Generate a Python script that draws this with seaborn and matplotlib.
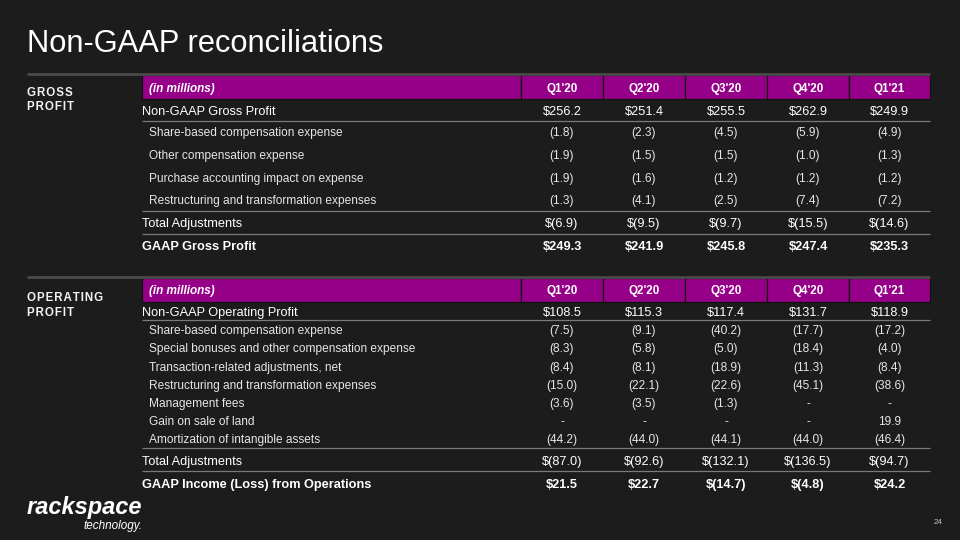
import matplotlib
matplotlib.use("Agg")
import matplotlib.pyplot as plt
import seaborn as sns
from matplotlib.patches import Rectangle

# ---------------- data ----------------
quarters = ["Q1'20", "Q2'20", "Q3'20", "Q4'20", "Q1'21"]

gross_sub_labels = [
    "Share-based compensation expense",
    "Other compensation expense",
    "Purchase accounting impact on expense",
    "Restructuring and transformation expenses",
]
gross_nongaap = [256.2, 251.4, 255.5, 262.9, 249.9]
gross_sbc = [-1.8, -2.3, -4.5, -5.9, -4.9]
gross_other_comp = [-1.9, -1.5, -1.5, -1.0, -1.3]
gross_purchase = [-1.9, -1.6, -1.2, -1.2, -1.2]
gross_restruct = [-1.3, -4.1, -2.5, -7.4, -7.2]
gross_total_adj = [-6.9, -9.5, -9.7, -15.5, -14.6]
gross_gaap = [249.3, 241.9, 245.8, 247.4, 235.3]

op_sub_labels = [
    "Share-based compensation expense",
    "Special bonuses and other compensation expense",
    "Transaction-related adjustments, net",
    "Restructuring and transformation expenses",
    "Management fees",
    "Gain on sale of land",
    "Amortization of intangible assets",
]
op_nongaap = [108.5, 115.3, 117.4, 131.7, 118.9]
op_sbc = [-7.5, -9.1, -40.2, -17.7, -17.2]
op_special = [-8.3, -5.8, -5.0, -18.4, -4.0]
op_transaction = [-8.4, -8.1, -18.9, -11.3, -8.4]
op_restruct = [-15.0, -22.1, -22.6, -45.1, -38.6]
op_mgmt = [-3.6, -3.5, -1.3, None, None]
op_land = [None, None, None, None, 19.9]
op_amort = [-44.2, -44.0, -44.1, -44.0, -46.4]
op_total_adj = [-87.0, -92.6, -132.1, -136.5, -94.7]
op_gaap = [21.5, 22.7, -14.7, -4.8, 24.2]

# ---------------- style ----------------
BG = "#1c1c1c"
PURPLE = "#960088"
sns.set_theme(style="dark", rc={"axes.facecolor": BG, "figure.facecolor": BG})
plt.rcParams["font.family"] = ["Liberation Sans", "DejaVu Sans"]

fig = plt.figure(figsize=(9.6, 5.4), dpi=100)
ax = fig.add_axes([0, 0, 1, 1])
ax.set_xlim(0, 960)
ax.set_ylim(540, 0)
ax.axis("off")

col_edges = [521, 603, 685, 767, 849, 930]
col_centers = [(a + b) / 2 for a, b in zip(col_edges[:-1], col_edges[1:])]
X_TABLE = 142
X_SUB = 149
X_RIGHT = 930


def fmt(v, dollar):
    if v is None:
        return "-"
    s = f"{abs(v):.1f}"
    if v < 0:
        s = f"({s})"
    return "$" + s if dollar else s


def txt(x, yc, s, size, weight="normal", style="normal", color="white", ha="left"):
    # yc = vertical centre of capitals (pixels); place baseline accordingly
    em = size / 0.72
    ax.text(x, yc + 0.358 * em, s, fontsize=size, fontweight=weight,
            fontstyle=style, color=color, ha=ha, va="baseline")


def hline(y, x0=X_TABLE, x1=X_RIGHT, color="#7a7a7a", lw=0.9):
    ax.plot([x0, x1], [y, y], color=color, lw=lw, solid_capstyle="butt")


def spaced(s):
    return "\u200a".join(s)


def section(top, title_lines, title_ys, header_y, main_label, main_y, main_vals,
            sub_labels, sub_vals, sub_ys, line1, line2, total_y, total_vals,
            line3, gaap_label, gaap_y, gaap_vals):
    # top divider
    hline(top, 27, X_RIGHT, color="#4a4a4a", lw=2.0)
    for t, y in zip(title_lines, title_ys):
        txt(27, y, spaced(t), 8.3, weight="bold", color="#f2f2f2")
    # header band
    h_top, h_bot = top + 1.5, top + 25.5
    edges = [X_TABLE] + col_edges
    for a, b in zip(edges[:-1], edges[1:]):
        ax.add_patch(Rectangle((a, h_top), b - a, h_bot - h_top,
                               facecolor=PURPLE, edgecolor="#101010", lw=0.9))
    txt(X_SUB, header_y, "(in millions)", 8.5, weight="bold", style="italic")
    for xc, q in zip(col_centers, quarters):
        txt(xc, header_y, q, 8.4, weight="bold", ha="center")
    # main row
    txt(X_TABLE, main_y, main_label, 9.2)
    for xc, v in zip(col_centers, main_vals):
        txt(xc, main_y, fmt(v, True), 9.2, ha="center")
    hline(line1)
    # sub rows
    for lab, vals, y in zip(sub_labels, sub_vals, sub_ys):
        txt(X_SUB, y, lab, 8.6, color="#e6e6e6")
        for xc, v in zip(col_centers, vals):
            txt(xc, y, fmt(v, False), 8.6, color="#e6e6e6", ha="center")
    hline(line2)
    txt(X_TABLE, total_y, "Total Adjustments", 9.2)
    for xc, v in zip(col_centers, total_vals):
        txt(xc, total_y, fmt(v, True), 9.2, ha="center")
    hline(line3)
    txt(X_TABLE, gaap_y, gaap_label, 9.2, weight="bold")
    for xc, v in zip(col_centers, gaap_vals):
        txt(xc, gaap_y, fmt(v, True), 9.2, weight="bold", ha="center")


# title
ax.text(27, 52, "Non-GAAP reconciliations", fontsize=22.2, color="white",
        ha="left", va="baseline")

section(73.5, ["GROSS", "PROFIT"], [91.5, 106], 87.5,
        "Non-GAAP Gross Profit", 110, gross_nongaap,
        gross_sub_labels, [gross_sbc, gross_other_comp, gross_purchase, gross_restruct],
        [132, 155, 177.5, 200], 121, 211, 222.5, gross_total_adj,
        234, "GAAP Gross Profit", 245, gross_gaap)

section(276.5, ["OPERATING", "PROFIT"], [297, 312], 290,
        "Non-GAAP Operating Profit", 311.5, op_nongaap,
        op_sub_labels, [op_sbc, op_special, op_transaction, op_restruct,
                        op_mgmt, op_land, op_amort],
        [330, 348, 366.5, 384.5, 402.5, 420.5, 439], 320, 448, 460, op_total_adj,
        471, "GAAP Income (Loss) from Operations", 483, op_gaap)

# logo
ax.text(142, 514, "rackspace", fontsize=17, fontweight="bold", fontstyle="italic",
        color="white", ha="right", va="baseline")
ax.text(142, 528.5, "technology.", fontsize=8.5, fontstyle="italic",
        color="white", ha="right", va="baseline")

# page number
ax.text(938, 524, "24", fontsize=5.8, color="#bfbfbf", ha="center", va="baseline")

fig.savefig("out.png", dpi=100, facecolor=BG)
